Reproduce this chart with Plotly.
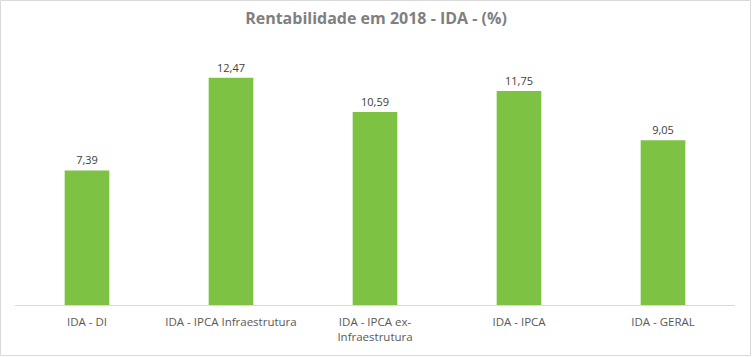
import plotly.graph_objects as go

categories = ["IDA - DI", "IDA - IPCA Infraestrutura", "IDA - IPCA ex-<br>Infraestrutura", "IDA - IPCA", "IDA - GERAL"]
values = [7.39, 12.47, 10.59, 11.75, 9.05]
value_labels = ["7,39", "12,47", "10,59", "11,75", "9,05"]

W, H = 752, 357
ml, mr, mt, mb = 15, 17, 50, 52
pw, ph = W - ml - mr, H - mt - mb

fig = go.Figure(go.Bar(
    x=categories, y=values, text=value_labels, textposition="outside",
    textfont=dict(family="Open Sans, Liberation Sans, sans-serif", size=11, color="#404040"),
    marker=dict(color="#7DC242", line=dict(width=0)),
    cliponaxis=False,
))

fig.update_layout(
    width=W, height=H,
    margin=dict(l=ml, r=mr, t=mt, b=mb, autoexpand=False),
    paper_bgcolor="white", plot_bgcolor="white",
    bargap=0.69,
    showlegend=False,
    title=dict(text="<b>Rentabilidade em 2018 - IDA - (%)</b>", x=0.5, xanchor="center",
               y=1 - 18 / H, yanchor="middle",
               font=dict(family="Open Sans, Liberation Sans, sans-serif", size=16, color="#7F7F7F")),
    xaxis=dict(showline=True, linecolor="#D9D9D9", linewidth=1, ticks="", automargin=False,
               ticklabelstandoff=6,
               tickfont=dict(family="Open Sans, Liberation Sans, sans-serif", size=11.5, color="#595959"),
               showgrid=False),
    yaxis=dict(range=[0, 14], visible=False, showgrid=False, zeroline=False, automargin=False),
    shapes=[dict(type="rect", xref="paper", yref="paper",
                 x0=(0.5 - ml) / pw, x1=(W - 1.5 - ml) / pw,
                 y0=(H - mb - (H - 1.5)) / ph, y1=(H - mb - 0.5) / ph,
                 line=dict(color="#D9D9D9", width=1), fillcolor="rgba(0,0,0,0)", layer="below")],
)

fig.write_html("out.html", config={"displayModeBar": False},
               post_script="document.body.style.margin='0';document.body.style.overflow='hidden';")
